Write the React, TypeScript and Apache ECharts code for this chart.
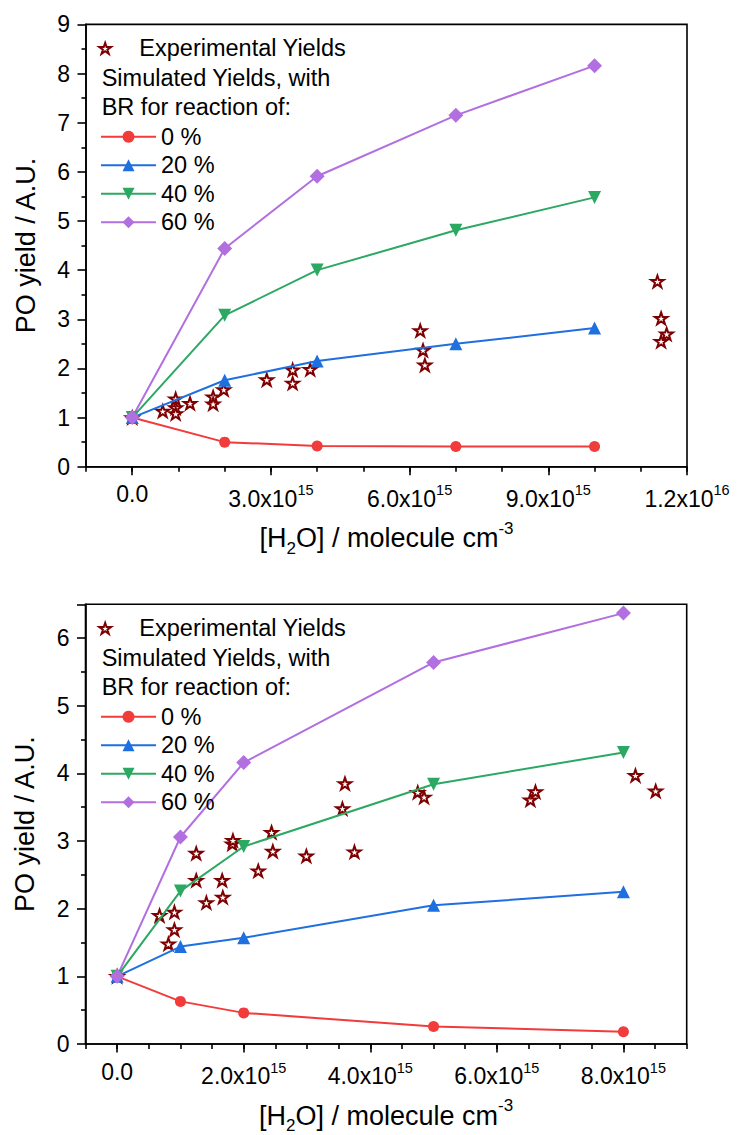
import React, { useEffect, useRef } from 'react';
import * as echarts from 'echarts';

// ---------- Top panel data ----------
const topSimX = [0, 2e15, 4e15, 7e15, 1e16];
const top0 = [1, 0.5, 0.42, 0.41, 0.41];
const top20 = [1, 1.76, 2.15, 2.5, 2.82];
const top40 = [1, 3.08, 4.0, 4.81, 5.48];
const top60 = [1, 4.44, 5.91, 7.15, 8.16];
const topExpX = [0, 0.66e15, 0.94e15, 0.94e15, 0.94e15, 1.25e15, 1.75e15, 1.75e15, 1.98e15, 2.91e15, 3.47e15, 3.47e15, 3.85e15, 6.23e15, 6.29e15, 6.33e15, 11.36e15, 11.44e15, 11.56e15, 11.44e15];
const topExpY = [1, 1.13, 1.38, 1.2, 1.08, 1.29, 1.42, 1.28, 1.57, 1.77, 1.97, 1.7, 1.98, 2.77, 2.37, 2.07, 3.77, 3.02, 2.7, 2.55];
const topLabelTicks = [0, 3e15, 6e15, 9e15, 1.2e16];

// ---------- Bottom panel data ----------
const botSimX = [0, 1e15, 2e15, 5e15, 8e15];
const bot0 = [1, 0.63, 0.46, 0.26, 0.18];
const bot20 = [1, 1.44, 1.57, 2.05, 2.25];
const bot40 = [1, 2.26, 2.92, 3.84, 4.31];
const bot60 = [1, 3.06, 4.16, 5.64, 6.37];
const botExpX = [0, 0.67e15, 0.81e15, 0.905e15, 0.905e15, 1.25e15, 1.25e15, 1.41e15, 1.66e15, 1.67e15, 1.82e15, 1.83e15, 2.23e15, 2.44e15, 2.46e15, 2.99e15, 3.56e15, 3.6e15, 3.75e15, 4.75e15, 4.85e15, 6.53e15, 6.61e15, 8.19e15, 8.51e15];
const botExpY = [1, 1.9, 1.48, 1.95, 1.69, 2.82, 2.42, 2.09, 2.42, 2.17, 2.96, 3.01, 2.56, 3.13, 2.85, 2.78, 3.48, 3.85, 2.84, 3.72, 3.65, 3.61, 3.73, 3.97, 3.74];
const botLabelTicks = [0, 2e15, 4e15, 6e15, 8e15];

const simNames = ['0 %', '20 %', '40 %', '60 %'];
const expName = 'Experimental Yields';
const textLine1 = 'Simulated Yields, with';
const textLine2 = 'BR for reaction of:';
const yTitle = 'PO yield / A.U.';

const FONT = '"Liberation Sans", Arial, sans-serif';
const colors = ['#F23B3B', '#1E6FE0', '#2BA862', '#B26FE0'];
const STAR = 'path://M50,0 L61.8,35.1 L98.9,35.1 L68.9,56.8 L80.4,91.9 L50,70.2 L19.6,91.9 L31.1,56.8 L1.1,35.1 L38.2,35.1 Z';
const TICK = { color: '#000', width: 1.6 };

const zip = (xs: number[], ys: number[]) => xs.map((x, i) => [x, ys[i]]);

function fmtX(v: number) {
  if (v === 0) return '0.0';
  const e = Math.floor(Math.log10(v) + 1e-9);
  const m = v / Math.pow(10, e);
  return `{m|${m.toFixed(1)}x10}{s|${e}}`;
}

const GRIDS = [
  { left: 86, top: 24.4, width: 601, height: 442.3 },
  { left: 85.5, top: 604.3, width: 601.2, height: 442.4 },
];

export default function App() {
  const ref = useRef<HTMLDivElement>(null);
  useEffect(() => {
    if (!ref.current) return;
    const chart = echarts.init(ref.current, undefined, { renderer: 'svg' });

    const mainX = (gridIndex: number, min: number, max: number, labelTicks: number[]) => ({
      type: 'value',
      gridIndex,
      position: 'bottom',
      min,
      max,
      name: '{b|[H}{sub|2}{b|O] / molecule cm}{sup|-3}',
      nameLocation: 'middle',
      nameGap: 53,
      nameTextStyle: {
        rich: {
          b: { fontSize: 27, lineHeight: 37, verticalAlign: 'middle', fontFamily: FONT, color: '#000' },
          sub: { fontSize: 17, lineHeight: 17, verticalAlign: 'bottom', fontFamily: FONT, color: '#000' },
          sup: { fontSize: 17, lineHeight: 17, verticalAlign: 'top', fontFamily: FONT, color: '#000' },
        },
      },
      axisLine: { show: true, onZero: false, lineStyle: TICK },
      axisTick: { show: false },
      axisLabel: {
        customValues: labelTicks,
        margin: 16,
        fontSize: 23,
        fontFamily: FONT,
        color: '#000',
        formatter: fmtX,
        rich: {
          m: { fontSize: 23, lineHeight: 32, verticalAlign: 'middle', fontFamily: FONT, color: '#000' },
          s: { fontSize: 14.5, lineHeight: 14, verticalAlign: 'top', fontFamily: FONT, color: '#000' },
        },
      },
      splitLine: { show: false },
    });

    // tick-only overlay x axes
    const minorX = (gridIndex: number, min: number, max: number, interval: number) => ({
      type: 'value',
      gridIndex,
      position: 'bottom',
      min,
      max,
      interval,
      axisLine: { show: false, onZero: false },
      axisTick: { show: true, length: 5, lineStyle: TICK },
      axisLabel: { show: false },
      splitLine: { show: false },
    });
    const majorX = (gridIndex: number, min: number, max: number, labelTicks: number[]) => ({
      type: 'value',
      gridIndex,
      position: 'bottom',
      min,
      max,
      axisLine: { show: false, onZero: false },
      axisTick: { show: true, length: 8.5, customValues: labelTicks, lineStyle: TICK },
      axisLabel: { show: false, customValues: labelTicks },
      splitLine: { show: false },
    });

    const yAx = (gridIndex: number, max: number) => ({
      type: 'value',
      gridIndex,
      min: 0,
      max,
      interval: 1,
      name: yTitle,
      nameLocation: 'middle',
      nameGap: 47,
      nameTextStyle: { fontSize: 27, fontFamily: FONT, color: '#000' },
      axisLine: { show: true, onZero: false, lineStyle: TICK },
      axisTick: { show: false },
      axisLabel: { margin: 16, fontSize: 23, fontFamily: FONT, color: '#000', showMaxLabel: Number.isInteger(max) },
      splitLine: { show: false },
    });
    const yTicks = (gridIndex: number, max: number) => ({
      type: 'value',
      gridIndex,
      position: 'left',
      min: 0,
      max,
      interval: 1,
      axisLine: { show: false, onZero: false },
      axisTick: { show: true, length: 8.5, lineStyle: TICK },
      minorTick: { show: true, splitNumber: 2, length: 4.5, lineStyle: TICK },
      axisLabel: { show: false },
      splitLine: { show: false },
    });

    const simSets = [
      [top0, top20, top40, top60],
      [bot0, bot20, bot40, bot60],
    ];
    const simXs = [topSimX, botSimX];
    const expSets = [zip(topExpX, topExpY), zip(botExpX, botExpY)];
    const symbols = [
      { symbol: 'circle', symbolSize: 11, symbolRotate: 0 },
      { symbol: 'triangle', symbolSize: 13, symbolRotate: 0 },
      { symbol: 'triangle', symbolSize: 13, symbolRotate: 180 },
      { symbol: 'diamond', symbolSize: 15, symbolRotate: 0 },
    ];

    const series: any[] = [];
    [0, 1].forEach((g) => {
      series.push({
        type: 'scatter',
        name: expName,
        xAxisIndex: g,
        yAxisIndex: g,
        symbol: STAR,
        symbolKeepAspect: true,
        symbolSize: 12.5,
        itemStyle: { color: '#ffffff', borderColor: '#7F0000', borderWidth: 2, opacity: 1 },
        data: expSets[g],
        z: 2,
      });
      simSets[g].forEach((ys, i) => {
        series.push({
          type: 'line',
          name: simNames[i],
          xAxisIndex: g,
          yAxisIndex: g,
          ...symbols[i],
          showSymbol: true,
          lineStyle: { color: colors[i], width: 2 },
          itemStyle: { color: colors[i] },
          data: zip(simXs[g], ys),
          z: 3,
        });
      });
    });

    const legendText = { fontSize: 23.5, lineHeight: 24, fontFamily: FONT, color: '#000' };
    const legends: any[] = [];
    const graphics: any[] = [];
    [0, 580].forEach((dy) => {
      legends.push({
        data: [expName],
        orient: 'vertical',
        left: 98.3,
        top: 36.3 + dy,
        padding: 0,
        itemWidth: 58.4,
        itemHeight: 11,
        selectedMode: false,
        textStyle: legendText,
      });
      legends.push({
        data: simNames,
        orient: 'vertical',
        left: 100,
        top: 124.7 + dy,
        padding: 0,
        itemWidth: 55,
        itemHeight: 15,
        itemGap: 4.5,
        selectedMode: false,
        textStyle: legendText,
      });
      graphics.push({
        type: 'text',
        x: 101.7,
        y: 78.3 + dy,
        style: { text: textLine1, fontSize: 23.5, fontFamily: FONT, fill: '#000', verticalAlign: 'middle' },
      });
      graphics.push({
        type: 'text',
        x: 101.7,
        y: 106.7 + dy,
        style: { text: textLine2, fontSize: 23.5, fontFamily: FONT, fill: '#000', verticalAlign: 'middle' },
      });
    });

    chart.setOption({
      animation: false,
      backgroundColor: '#ffffff',
      textStyle: { fontFamily: FONT },
      grid: GRIDS.map((g) => ({ ...g, show: true, borderColor: '#000', borderWidth: 1.6, containLabel: false })),
      xAxis: [
        mainX(0, -1e15, 1.2e16, topLabelTicks),
        mainX(1, -0.5e15, 9e15, botLabelTicks),
        minorX(0, -1e15, 1.2e16, 1e15),
        minorX(1, -0.5e15, 9e15, 0.5e15),
        majorX(0, -1e15, 1.2e16, topLabelTicks),
        majorX(1, -0.5e15, 9e15, botLabelTicks),
      ],
      yAxis: [yAx(0, 9), yAx(1, 6.5), yTicks(0, 9), yTicks(1, 6.5)],
      legend: legends,
      graphic: graphics,
      series,
    });
    return () => chart.dispose();
  }, []);
  return <div ref={ref} style={{ position: 'absolute', left: 0, top: 0, width: 739, height: 1135 }} />;
}
